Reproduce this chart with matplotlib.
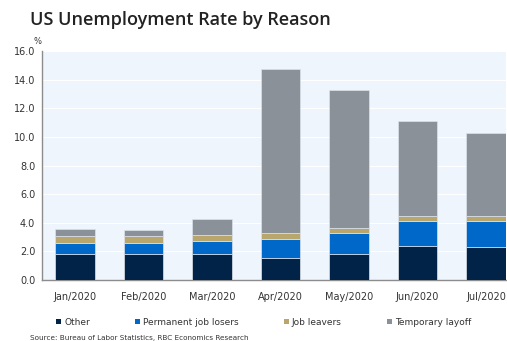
import matplotlib
matplotlib.use("Agg")
import matplotlib.pyplot as plt
from matplotlib.patches import Patch
import numpy as np

plt.rcParams["font.family"] = "DejaVu Sans"

months = ["Jan/2020", "Feb/2020", "Mar/2020", "Apr/2020", "May/2020", "Jun/2020", "Jul/2020"]
other = [1.80, 1.80, 1.80, 1.54, 1.82, 2.38, 2.31]
perm_losers = [0.80, 0.76, 0.92, 1.30, 1.48, 1.74, 1.81]
job_leavers = [0.50, 0.51, 0.40, 0.42, 0.30, 0.38, 0.38]
temp_layoff = [0.46, 0.43, 1.14, 11.48, 9.70, 6.63, 5.80]

series = [
    ("Other", other, "#002347"),
    ("Permanent job losers", perm_losers, "#0068c8"),
    ("Job leavers", job_leavers, "#b8a66c"),
    ("Temporary layoff", temp_layoff, "#8a9198"),
]

fig = plt.figure(figsize=(5.07, 3.41), dpi=100)
ax = fig.add_axes([0.083, 0.179, 0.915, 0.671])
ax.set_facecolor("#eef5fc")

x = np.arange(len(months))
bottom = np.zeros(len(months))
for name, vals, col in series:
    ax.bar(x, vals, bottom=bottom, width=0.58, color=col, edgecolor="#dde3ea", linewidth=0.5, zorder=3)
    bottom += np.array(vals)

ax.set_ylim(0, 16)
ax.set_xlim(-0.48, 6.29)
ax.set_yticks(np.arange(0, 16.1, 2))
ax.set_yticklabels([f"{v:.1f}" for v in np.arange(0, 16.1, 2)])
ax.set_xticks(x)
ax.set_xticklabels(months)
ax.yaxis.grid(True, color="white", linewidth=0.8, zorder=0)
ax.tick_params(axis="both", length=0, labelsize=7, colors="#333333", pad=5)
ax.tick_params(axis="x", pad=9)
for s in ["top", "right"]:
    ax.spines[s].set_visible(False)
for s in ["left", "bottom"]:
    ax.spines[s].set_color("#8c8c8c")
    ax.spines[s].set_linewidth(1.0)

fig.text(0.059, 0.94, "US Unemployment Rate by Reason", fontsize=13, fontweight="semibold",
         family=["Open Sans", "DejaVu Sans"], color="#222222", va="center", ha="left")
fig.text(0.066, 0.877, "%", fontsize=6, color="#333333", ha="left", va="center")

handles = [Patch(facecolor=col, edgecolor="none", label=name) for name, vals, col in series]
fig.legend(handles=handles, loc="center", bbox_to_anchor=(0.52, 0.055), ncol=4, frameon=False,
           fontsize=6.5, handlelength=0.6, handleheight=0.6, handletextpad=0.3, columnspacing=5.0,
           labelcolor="#333333")
fig.text(0.059, 0.0, "Source: Bureau of Labor Statistics, RBC Economics Research", fontsize=5.2,
         color="#333333", ha="left", va="bottom")

fig.savefig("out.png", dpi=100, facecolor="white")
